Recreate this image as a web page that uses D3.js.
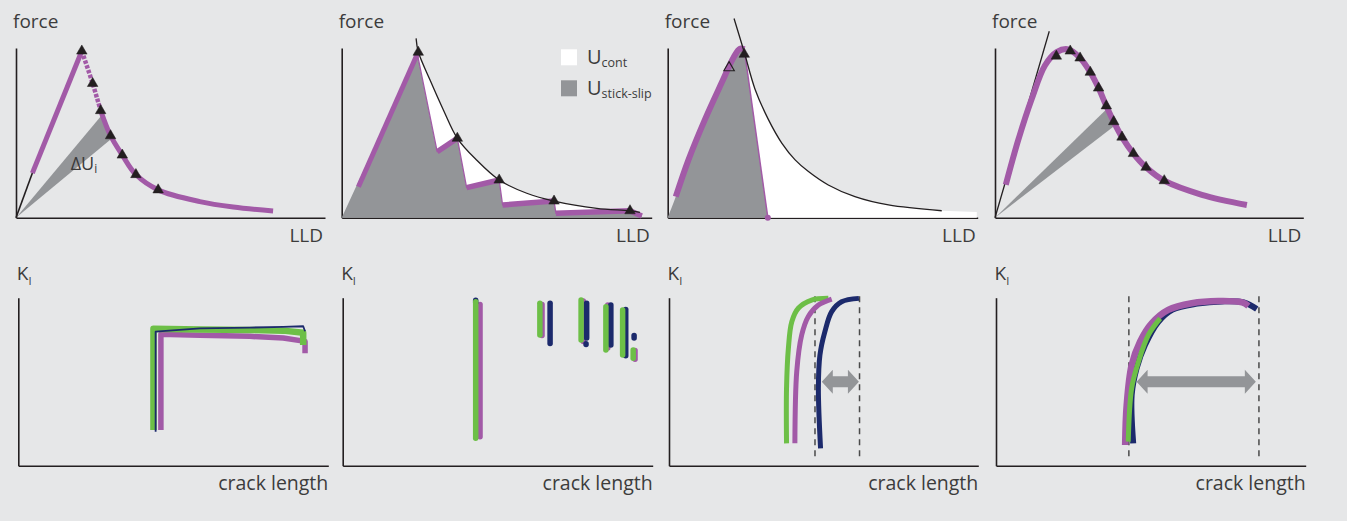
<!DOCTYPE html>
<html><head><meta charset="utf-8">
<script src="https://cdn.jsdelivr.net/npm/d3@7"></script>
<style>body{margin:0;background:#e6e7e8;}svg{display:block;font-family:"Open Sans",sans-serif;}</style>
</head><body><svg id="c" width="1347" height="521"></svg>
<script>
// ---------------- DATA (arbitrary units, 0..10 on each axis) ----------------
// Panel 1: continuous crack growth with single triangles
const p1Elastic = [[0,0],[0.53,2.63]];
const p1Loading = [[0.53,2.63],[2.13,9.82]];
const p1UnloadDotted = [[2.13,9.82],[2.48,7.91],[2.74,6.31]];
const p1Unload = [[2.74,6.31],[3.06,4.83],[3.44,3.69],[3.88,2.54],[4.60,1.64],[5.95,0.95],[7.03,0.63],[8.32,0.40]];
const p1Triangles = [[2.13,9.82],[2.48,7.91],[2.74,6.31],[3.06,4.83],[3.44,3.69],[3.88,2.54],[4.60,1.64]];
const p1Wedge = [[0,0],[2.80,6.10],[3.05,4.60]];
const p1Label = [1.77,2.80];

// Panel 2: stick-slip
const p2Loading = [[0.54,1.83],[2.44,9.65]];
const p2Sawtooth = [[2.44,9.65],[3.08,3.89],[3.73,4.68],[4.03,1.77],[5.08,2.22],[5.19,0.75],[6.85,0.98],[6.91,0.26],[9.30,0.41],[9.68,0.10]];
const p2Reloads = [[[3.08,3.89],[3.73,4.68]],[[4.03,1.77],[5.08,2.22]],[[5.19,0.75],[6.85,0.98]],[[6.91,0.26],[9.30,0.41]],[[9.30,0.41],[9.68,0.10]]];
const p2Envelope = [[2.40,10.57],[2.47,9.78],[2.85,8.11],[3.28,6.35],[3.73,4.68],[4.35,3.40],[5.08,2.22],[5.97,1.44],[6.85,0.98],[8.23,0.55],[9.30,0.41],[9.62,0.32]];
const p2Triangles = [[2.47,9.75],[3.73,4.68],[5.08,2.22],[6.85,0.98],[9.30,0.41]];
const legendItems = [["U","cont","#ffffff"],["U","stick-slip","#939598"]];

// Panel 3: single unstable crack
const p3Loading = [[0,0],[0.26,1.24],[0.67,3.41],[1.20,5.78],[1.74,7.95],[2.12,9.43],[2.33,9.96],[2.47,9.92]];
const p3Drop = [[2.47,9.92],[3.23,0]];
const p3Envelope = [[2.14,11.74],[2.47,9.75],[2.82,7.56],[3.25,5.78],[3.68,4.40],[4.11,3.41],[4.54,2.72],[5.18,1.93],[6.04,1.24],[7.12,0.75],[8.84,0.41]];
const p3WhiteEnd = [[9.97,0.34],[9.97,0],[3.23,0]];
const p3HollowTri = [[1.98,8.84]];
const p3FilledTri = [[2.47,9.63]];

// Panel 4: stable crack growth with R-curve
const p4Tangent = [[0,0],[1.76,10.99]];
const p4Curve = [[0.35,1.94],[0.76,4.61],[1.19,6.99],[1.62,8.97],[2.00,9.76],[2.38,9.92],[2.76,9.41],[3.09,8.57],[3.36,7.64],[3.61,6.59],[3.85,5.66],[4.12,4.75],[4.49,3.78],[4.90,2.97],[5.49,2.18],[6.71,1.35],[8.17,0.75]];
const p4Triangles = [[1.99,9.52],[2.44,9.82],[2.76,9.41],[3.09,8.57],[3.36,7.64],[3.61,6.59],[3.85,5.66],[4.12,4.75],[4.49,3.78],[4.90,2.97],[5.49,2.18]];
const p4Wedge = [[0,0],[3.59,6.34],[3.87,5.40]];

// Panel 5: K_I vs crack length, flat
const p5Purple = [[4.60,2.13],[4.60,7.82],[5.86,7.76],[7.47,7.70],[8.55,7.60],[9.25,7.40],[9.25,6.69]];
const p5Green  = [[4.36,2.13],[4.36,8.15],[5.86,8.10],[7.47,8.08],[8.55,8.04],[9.19,7.92],[9.19,7.18]];
const p5Navy   = [[4.43,2.02],[4.43,7.98],[5.86,8.18],[7.47,8.22],[8.55,8.26],[9.19,8.30],[9.25,8.00]];

// Panel 6: stick-slip bands [x, yTop, yBottom]
const p6Purple = [[4.43,9.60,1.72],[6.43,9.60,7.75],[7.76,9.80,7.40],[8.55,9.56,7.00],[9.10,9.20,6.60],[9.43,6.85,6.33]];
const p6Navy   = [[4.29,9.85,9.70],[6.69,9.67,7.28],[7.87,9.67,7.60],[7.85,7.26,7.22],[8.65,9.56,7.18],[9.13,9.30,6.55],[9.40,7.75,7.60]];
const p6Green  = [[4.29,9.76,1.63],[6.36,9.67,7.78],[7.69,9.86,7.48],[8.49,9.46,6.89],[9.03,9.27,6.59],[9.37,6.89,6.39]];

// Panel 7: shifted R-curves
const p7Green  = [[3.80,1.33],[3.80,4.61],[3.86,6.99],[3.97,8.57],[4.18,9.37],[4.61,9.86],[5.15,9.96]];
const p7Purple = [[4.07,1.33],[4.13,5.60],[4.29,7.78],[4.50,8.87],[4.83,9.56],[5.26,9.92]];
const p7Navy   = [[4.90,1.03],[4.83,4.61],[4.88,6.59],[5.04,7.98],[5.26,9.17],[5.58,9.76],[6.14,9.96]];
const p7Bounds = [4.72,6.16];
const p7Arrow  = [4.94,6.14,5.0];

// Panel 8: coinciding R-curves
const p8Navy   = [[4.43,1.33],[4.38,4.21],[4.54,5.80],[4.81,7.18],[5.24,8.57],[5.70,9.30],[6.50,9.65],[7.30,9.78],[8.00,9.72],[8.42,9.33]];
const p8Purple = [[4.17,1.23],[4.22,3.61],[4.38,5.99],[4.65,7.38],[5.03,8.48],[5.56,9.27],[6.32,9.67],[7.18,9.80],[7.95,9.72],[8.15,9.50]];
const p8Green  = [[4.27,1.43],[4.38,4.61],[4.60,6.19],[4.92,7.78],[5.30,8.77]];
const p8Bounds = [4.29,8.49];
const p8Arrow  = [4.54,8.39,5.0];

const labelsTop = ["force","LLD"];
const labelsBottom = ["K","I","crack length"];

// ---------------- STYLE / LAYOUT ----------------
const C = {bg:"#e6e7e8", axis:"#231f20", text:"#3c3c3c", purple:"#a25aa7", green:"#6dbf47", navy:"#1c2a6c", gray:"#939598", white:"#ffffff"};
const frames = [
  {left:16,   right:325,    top:48,    bottom:217.7},
  {left:341.7,right:651.7,  top:48,    bottom:217.7},
  {left:667.7,right:977.7,  top:48,    bottom:217.7},
  {left:995,  right:1303.3, top:48,    bottom:217.7},
  {left:18.3, right:328.3,  top:297.7, bottom:465.7},
  {left:342.7,right:652.7,  top:297.7, bottom:465.7},
  {left:669,  right:978.3,  top:297.7, bottom:465.7},
  {left:996,  right:1305.7, top:297.7, bottom:465.7}
];

const svg = d3.select("#c");
svg.append("rect").attr("width",1347).attr("height",521).attr("fill",C.bg);

function makePanel(f){
  const x = d3.scaleLinear().domain([0,10]).range([f.left,f.right]);
  const y = d3.scaleLinear().domain([0,10]).range([f.bottom,f.top]);
  const g = svg.append("g");
  return {x,y,g,f};
}
const P = frames.map(makePanel);

function lineOf(p, curve){ return d3.line().x(d=>p.x(d[0])).y(d=>p.y(d[1])).curve(curve||d3.curveLinear); }
function pts(p, arr){ return arr.map(d=>[p.x(d[0]),p.y(d[1])]); }
function poly(p, arr, fill){ p.g.append("path").attr("d","M"+pts(p,arr).join("L")+"Z").attr("fill",fill); }
function stroke(p, arr, color, w, curve, extra){
  const s = p.g.append("path").attr("d",lineOf(p,curve)(arr)).attr("fill","none")
    .attr("stroke",color).attr("stroke-width",w).attr("stroke-linejoin","round");
  if(extra) extra(s);
  return s;
}
function triangles(p, arr, hollow){
  const sym = d3.symbol(d3.symbolTriangle, 48);
  p.g.selectAll(null).data(arr).enter().append("path")
    .attr("d",sym).attr("transform",d=>`translate(${p.x(d[0])},${p.y(d[1])})`)
    .attr("fill",hollow?"none":C.axis).attr("stroke",C.axis).attr("stroke-width",hollow?1.1:0.5);
}
function axes(p){
  const ax = p.g.append("g").attr("transform",`translate(0,${p.f.bottom})`)
    .call(d3.axisBottom(p.x).tickValues([]).tickSizeOuter(0));
  const ay = p.g.append("g").attr("transform",`translate(${p.f.left},0)`)
    .call(d3.axisLeft(p.y).tickValues([]).tickSizeOuter(0));
  [ax,ay].forEach(a=>a.select(".domain").attr("stroke",C.axis).attr("stroke-width",1.6));
}
function topLabels(p){
  p.g.append("text").attr("x",p.f.left-3).attr("y",28).attr("fill",C.text).attr("font-size",19).text(labelsTop[0]);
  p.g.append("text").attr("x",p.f.right-2).attr("y",242).attr("text-anchor","end").attr("fill",C.text).attr("font-size",19).text(labelsTop[1]);
}
function bottomLabels(p){
  const t = p.g.append("text").attr("x",p.f.left-1.5).attr("y",280).attr("fill",C.text).attr("font-size",19);
  t.append("tspan").text(labelsBottom[0]);
  t.append("tspan").attr("font-size",11).attr("dy",5).text(labelsBottom[1]);
  p.g.append("text").attr("x",p.f.right).attr("y",490).attr("text-anchor","end").attr("fill",C.text).attr("font-size",19.5).text(labelsBottom[2]);
}
function bands(p, arr, color, w){
  p.g.selectAll(null).data(arr).enter().append("line")
    .attr("x1",d=>p.x(d[0])).attr("x2",d=>p.x(d[0]))
    .attr("y1",d=>p.y(d[1])).attr("y2",d=>p.y(d[2]))
    .attr("stroke",color).attr("stroke-width",w).attr("stroke-linecap","round");
}
function bounds(p, arr){
  p.g.selectAll(null).data(arr).enter().append("line")
    .attr("x1",d=>p.x(d)).attr("x2",d=>p.x(d))
    .attr("y1",p.y(10.08)).attr("y2",p.y(0.34))
    .attr("stroke","#4a4a4a").attr("stroke-width",1.5).attr("stroke-dasharray","6,5");
}
function dblArrow(p, a){
  const x0=p.x(a[0]), x1=p.x(a[1]), yc=p.y(a[2]);
  const hs=5.5, hh=12, hl=11;
  const q=[[x0,yc],[x0+hl,yc-hh],[x0+hl,yc-hs],[x1-hl,yc-hs],[x1-hl,yc-hh],[x1,yc],[x1-hl,yc+hh],[x1-hl,yc+hs],[x0+hl,yc+hs],[x0+hl,yc+hh]];
  p.g.append("path").attr("d","M"+q.join("L")+"Z").attr("fill",C.gray);
}

// ---------------- PANEL 1 ----------------
{
  const p=P[0];
  axes(p); topLabels(p);
  poly(p,p1Wedge,C.gray);
  const t = p.g.append("text").attr("x",p.x(p1Label[0])).attr("y",p.y(p1Label[1])).attr("fill","#3a3a3a").attr("font-size",18);
  t.append("tspan").text("ΔU");
  t.append("tspan").attr("font-size",12).attr("dy",3).text("i");
  stroke(p,p1Elastic,C.axis,1.6);
  stroke(p,p1Loading,C.purple,5);
  stroke(p,p1UnloadDotted,C.purple,4.5,d3.curveCatmullRom,s=>s.attr("stroke-dasharray","3.5,1.5"));
  stroke(p,p1Unload,C.purple,5,d3.curveCatmullRom);
  triangles(p,p1Triangles);
}
// ---------------- PANEL 2 ----------------
{
  const p=P[1];
  axes(p); topLabels(p);
  poly(p,[[0,0]].concat(p2Sawtooth,[[9.68,0]]),C.gray);
  const env = lineOf(p,d3.curveCatmullRom)(p2Envelope.slice(1));
  const back = pts(p,p2Sawtooth.slice().reverse());
  p.g.append("path").attr("d",env+"L"+back.join("L")+"Z").attr("fill",C.white);
  stroke(p,p2Sawtooth,C.purple,1.3);
  stroke(p,p2Loading,C.purple,5);
  p2Reloads.forEach(s=>stroke(p,s,C.purple,5.5));
  stroke(p,p2Envelope,C.axis,1.3,d3.curveCatmullRom);
  triangles(p,p2Triangles);
  legendItems.forEach((d,i)=>{
    const y0 = 49.3 + i*31;
    p.g.append("rect").attr("x",561).attr("y",y0).attr("width",16).attr("height",16).attr("fill",d[2]);
    const t = p.g.append("text").attr("x",587).attr("y",y0+15).attr("fill",C.text).attr("font-size",20);
    t.append("tspan").text(d[0]);
    t.append("tspan").attr("font-size",12.5).attr("dy",3).text(d[1]);
  });
}
// ---------------- PANEL 3 ----------------
{
  const p=P[2];
  axes(p); topLabels(p);
  const gray = lineOf(p,d3.curveCatmullRom)(p3Loading)+"L"+pts(p,[p3Drop[1]]).join("L")+"Z";
  p.g.append("path").attr("d",gray).attr("fill",C.gray);
  const envPart = p3Envelope.slice(1);
  const white = "M"+pts(p,[p3Drop[0]])+"L"+lineOf(p,d3.curveCatmullRom)(envPart).slice(1)+"L"+pts(p,p3WhiteEnd).join("L")+"Z";
  p.g.append("path").attr("d",white).attr("fill",C.white);
  stroke(p,p3Loading.slice(1),C.purple,6,d3.curveCatmullRom);
  stroke(p,p3Drop,C.purple,1.5);
  p.g.append("circle").attr("cx",p.x(p3Drop[1][0])).attr("cy",p.y(p3Drop[1][1])).attr("r",3).attr("fill",C.purple);
  stroke(p,p3Envelope,C.axis,1.3,d3.curveCatmullRom);
  triangles(p,p3HollowTri,true);
  triangles(p,p3FilledTri);
}
// ---------------- PANEL 4 ----------------
{
  const p=P[3];
  axes(p); topLabels(p);
  poly(p,p4Wedge,C.gray);
  stroke(p,p4Tangent,C.axis,1.3);
  stroke(p,p4Curve,C.purple,6,d3.curveCatmullRom);
  triangles(p,p4Triangles);
}
// ---------------- PANEL 5 ----------------
{
  const p=P[4];
  axes(p); bottomLabels(p);
  stroke(p,p5Purple,C.purple,5.5);
  stroke(p,p5Green,C.green,6.5);
  stroke(p,p5Navy,C.navy,1.8);
}
// ---------------- PANEL 6 ----------------
{
  const p=P[5];
  axes(p); bottomLabels(p);
  bands(p,p6Purple,C.purple,5.5);
  bands(p,p6Navy,C.navy,5.5);
  bands(p,p6Green,C.green,5.5);
}
// ---------------- PANEL 7 ----------------
{
  const p=P[6];
  axes(p); bottomLabels(p);
  bounds(p,p7Bounds);
  stroke(p,p7Green,C.green,5,d3.curveCatmullRom);
  stroke(p,p7Purple,C.purple,5,d3.curveCatmullRom);
  stroke(p,p7Navy,C.navy,5,d3.curveCatmullRom);
  dblArrow(p,p7Arrow);
}
// ---------------- PANEL 8 ----------------
{
  const p=P[7];
  axes(p); bottomLabels(p);
  bounds(p,p8Bounds);
  stroke(p,p8Navy,C.navy,6,d3.curveCatmullRom);
  stroke(p,p8Purple,C.purple,6.5,d3.curveCatmullRom);
  stroke(p,p8Green,C.green,5,d3.curveCatmullRom);
  dblArrow(p,p8Arrow);
}
</script></body></html>
